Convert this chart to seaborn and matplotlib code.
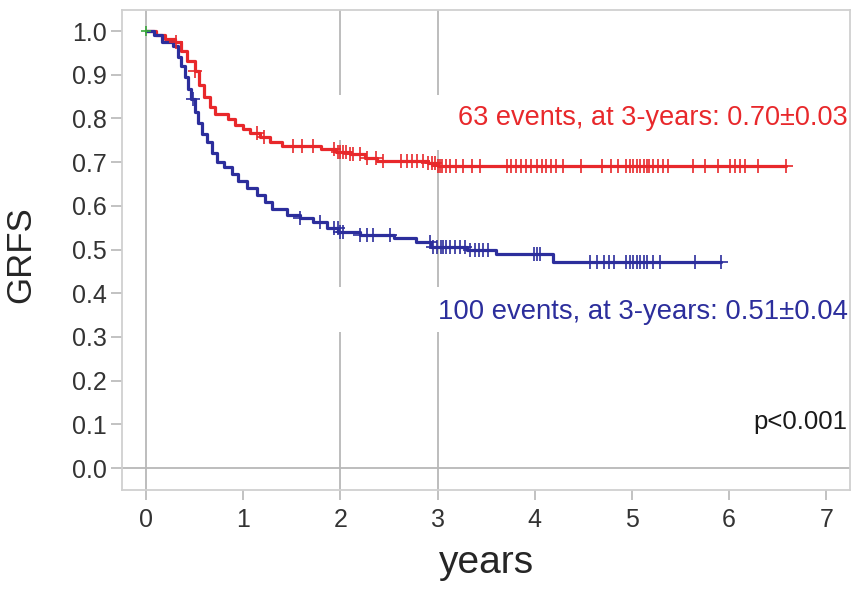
import matplotlib
matplotlib.use("Agg")
import matplotlib.pyplot as plt
import numpy as np
import pandas as pd
import seaborn as sns

# Kaplan-Meier step points (time in years, survival after the step)
red_times = [0.0, 0.10, 0.20, 0.30, 0.36, 0.42, 0.50, 0.55, 0.60, 0.66, 0.71, 0.84, 0.92,
             1.00, 1.07, 1.17, 1.28, 1.40, 1.80, 1.95, 2.10, 2.25, 2.38, 2.90, 3.00, 6.58]
red_surv = [1.0, 0.99, 0.982, 0.974, 0.955, 0.932, 0.908, 0.876, 0.850, 0.825, 0.810, 0.798, 0.786,
            0.775, 0.766, 0.757, 0.745, 0.736, 0.730, 0.724, 0.718, 0.710, 0.703, 0.697, 0.690, 0.690]

blue_times = [0.0, 0.08, 0.16, 0.28, 0.33, 0.36, 0.40, 0.43, 0.46, 0.50, 0.53, 0.58, 0.63, 0.68,
              0.73, 0.80, 0.88, 0.95, 1.04, 1.14, 1.22, 1.30, 1.45, 1.58, 1.72, 1.86, 1.98,
              2.20, 2.55, 2.78, 2.93, 3.30, 3.60, 4.19, 5.92]
blue_surv = [1.0, 0.99, 0.975, 0.965, 0.94, 0.92, 0.895, 0.868, 0.845, 0.815, 0.79, 0.765, 0.745, 0.72,
             0.70, 0.688, 0.672, 0.656, 0.641, 0.625, 0.608, 0.592, 0.580, 0.572, 0.563, 0.549, 0.540,
             0.533, 0.527, 0.517, 0.505, 0.499, 0.489, 0.472, 0.472]

# censoring times
red_censor = [0.31, 0.50, 1.14, 1.21, 1.51, 1.60, 1.72, 1.93, 1.97, 2.00, 2.03, 2.06, 2.10, 2.13,
              2.20, 2.27, 2.37, 2.44, 2.62, 2.68, 2.74, 2.79, 2.85, 2.90, 2.94, 2.97, 3.00, 3.02,
              3.05, 3.09, 3.13, 3.19, 3.26, 3.35, 3.44, 3.71, 3.76, 3.81, 3.86, 3.91, 3.96, 4.02,
              4.07, 4.12, 4.17, 4.22, 4.29, 4.48, 4.69, 4.78, 4.86, 4.94, 4.98, 5.01, 5.05, 5.08,
              5.12, 5.15, 5.18, 5.22, 5.27, 5.32, 5.37, 5.63, 5.75, 5.89, 6.01, 6.06, 6.11, 6.16,
              6.30, 6.58]
blue_censor = [0.48, 1.58, 1.79, 1.93, 1.97, 2.00, 2.03, 2.20, 2.27, 2.34, 2.51, 2.92, 2.95, 2.99,
               3.03, 3.06, 3.09, 3.13, 3.18, 3.23, 3.28, 3.33, 3.38, 3.43, 3.47, 3.52, 3.99, 4.02,
               4.05, 4.57, 4.64, 4.71, 4.76, 4.81, 4.94, 4.98, 5.01, 5.05, 5.08, 5.12, 5.15, 5.22,
               5.29, 5.65, 5.92]

red_label = "63 events, at 3-years: 0.70\u00b10.03"
blue_label = "100 events, at 3-years: 0.51\u00b10.04"
p_label = "p<0.001"

RED = "#e8282b"
BLUE = "#2c2e9c"
GRID = "#b8b8b8"

sns.set_style("white")
plt.rcParams['font.family'] = ['Liberation Sans', 'DejaVu Sans']


def censor_points(times, surv, cens):
    idx = np.searchsorted(times, cens, side='right') - 1
    return pd.DataFrame({'t': cens, 's': np.array(surv)[idx]})


fig = plt.figure(figsize=(8.57, 5.90), dpi=100)
ax = fig.add_axes([0.1424, 0.1695, 0.8494, 0.8135])

# reference lines (broken where the original had gaps)
ax.axvline(0, color=GRID, lw=1.3, zorder=1)
ax.axhline(0, color=GRID, lw=1.3, zorder=1)
ax.vlines([2, 2, 2], [-0.06, 0.414, 0.853], [0.311, 0.75, 1.05], color=GRID, lw=1.3, zorder=1)
ax.vlines([3, 3, 3], [-0.06, 0.414, 0.853], [0.311, 0.728, 1.05], color=GRID, lw=1.3, zorder=1)

df_red = pd.DataFrame({'t': red_times, 's': red_surv})
df_blue = pd.DataFrame({'t': blue_times, 's': blue_surv})
sns.lineplot(data=df_red, x='t', y='s', ax=ax, color=RED, lw=2.3, drawstyle='steps-post',
             estimator=None, sort=False, zorder=3)
sns.lineplot(data=df_blue, x='t', y='s', ax=ax, color=BLUE, lw=2.3, drawstyle='steps-post',
             estimator=None, sort=False, zorder=3)
sns.scatterplot(data=censor_points(red_times, red_surv, red_censor), x='t', y='s', ax=ax,
                marker='+', s=90, color=RED, linewidth=1.2, zorder=4)
sns.scatterplot(data=censor_points(blue_times, blue_surv, blue_censor), x='t', y='s', ax=ax,
                marker='+', s=90, color=BLUE, linewidth=1.2, zorder=4)
ax.scatter([0], [1.0], marker='+', s=60, color="#3aa83a", linewidth=1.2, zorder=5)

ax.text(7.22, 0.80, red_label, color=RED, fontsize=19.5, ha='right', va='center')
ax.text(7.22, 0.357, blue_label, color=BLUE, fontsize=19.8, ha='right', va='center')
ax.text(7.22, 0.105, p_label, color='#1a1a1a', fontsize=18.5, ha='right', va='center')

ax.set_xlim(-0.247, 7.243)
ax.set_ylim(-0.0503, 1.048)
ax.set_xticks(range(0, 8))
ax.set_yticks(np.round(np.arange(0, 1.01, 0.1), 1))
ax.set_yticklabels([f"{v:.1f}" for v in np.arange(0, 1.01, 0.1)])
ax.tick_params(axis='y', length=8, width=1.2, color=GRID, pad=3, labelsize=18, labelcolor='#333333', left=True)
ax.tick_params(axis='x', length=7, width=1.2, color=GRID, pad=6, labelsize=18, labelcolor='#333333', bottom=True)
for sp in ax.spines.values():
    sp.set_color("#d0d0d0")
    sp.set_linewidth(1.3)

ax.set_xlabel("years", fontsize=28)
ax.set_ylabel("GRFS", fontsize=25)
ax.xaxis.set_label_coords(0.5, -0.115)
ax.yaxis.set_label_coords(-0.117, 0.49)

fig.savefig("out.png", dpi=100)
